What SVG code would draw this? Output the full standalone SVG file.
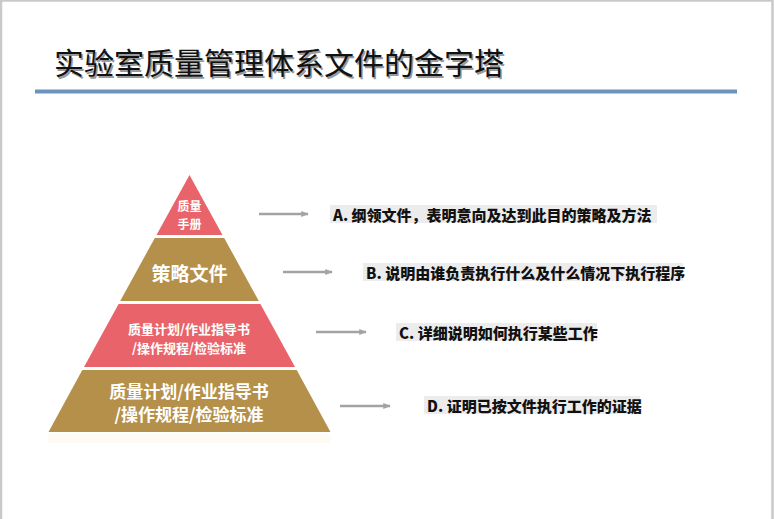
<svg xmlns="http://www.w3.org/2000/svg" width="774" height="519" viewBox="0 0 774 519">
  <style>
    .pink { fill: #E8646A; }
    .gold { fill: #B5904A; }
    .wt { fill: #FFFFFF; font-family: "Noto Sans CJK SC", "Noto Sans", sans-serif; font-weight: bold; text-anchor: middle; dominant-baseline: central; }
    .lbl { fill: #111111; font-family: "Noto Sans CJK SC", "Noto Sans", sans-serif; font-weight: 900; font-size: 15px; dominant-baseline: central; }
    .lblbg { fill: #ECECEC; }
    .conn { stroke: #A3A3A3; stroke-width: 2.5; fill: none; marker-end: url(#ah); }
    .title { font-family: "Noto Sans CJK SC", "Noto Sans", sans-serif; font-size: 30px; }
  </style>
  <defs>
    <marker id="ah" viewBox="0 0 10 10" refX="9" refY="5" markerWidth="3" markerHeight="3" orient="auto" markerUnits="strokeWidth">
      <path d="M0,1 L10,5 L0,9 z" fill="#A3A3A3"/>
    </marker>
  </defs>
  <rect x="0" y="0" width="774" height="519" fill="#FFFFFF"/>
  <rect x="1" y="0.5" width="771.5" height="520" fill="none" stroke="#C9C9C9" stroke-width="2.5"/>

  <g id="title">
    <text x="55.5" y="75.5" class="title" fill="#9A9A9A">实验室质量管理体系文件的金字塔</text>
    <text x="54" y="74" class="title" fill="#111111">实验室质量管理体系文件的金字塔</text>
    <rect x="35" y="89.5" width="702" height="4" fill="#6B93BE"/>
  </g>

  <g id="reflection" opacity="0.07">
    <rect x="48" y="434" width="282" height="9" fill="#E8C860"/>
  </g>

  <g id="layer1">
    <polygon class="pink" points="189.5,175 222.5,235 156.5,235"/>
    <text class="wt" x="189.5" y="205" font-size="12">质量</text>
    <text class="wt" x="189.5" y="223" font-size="12">手册</text>
  </g>
  <g id="layer2">
    <polygon class="gold" points="154.8,238 224.2,238 258.8,301 120.2,301"/>
    <text class="wt" x="189.5" y="272" font-size="19">策略文件</text>
  </g>
  <g id="layer3">
    <polygon class="pink" points="118.6,304 260.4,304 295,367 84,367"/>
    <text class="wt" x="189" y="328" font-size="13">质量计划/作业指导书</text>
    <text class="wt" x="189" y="347" font-size="13">/操作规程/检验标准</text>
  </g>
  <g id="layer4">
    <polygon class="gold" points="82.3,370 296.7,370 330.5,432 48.5,432"/>
    <text class="wt" x="189" y="390" font-size="17">质量计划/作业指导书</text>
    <text class="wt" x="189" y="413" font-size="17">/操作规程/检验标准</text>
  </g>

  <g id="labelA">
    <rect class="lblbg" x="330" y="205" width="327" height="18"/>
    <text class="lbl" x="333" y="214">A. 纲领文件，表明意向及达到此目的策略及方法</text>
  </g>
  <g id="labelB">
    <rect class="lblbg" x="363" y="263" width="320" height="18"/>
    <text class="lbl" x="366" y="272">B. 说明由谁负责执行什么及什么情况下执行程序</text>
  </g>
  <g id="labelC">
    <rect class="lblbg" x="396" y="323" width="201" height="18"/>
    <text class="lbl" x="399" y="332">C. 详细说明如何执行某些工作</text>
  </g>
  <g id="labelD">
    <rect class="lblbg" x="424" y="396" width="216" height="18"/>
    <text class="lbl" x="427" y="405">D. 证明已按文件执行工作的证据</text>
  </g>

  <g id="connectors">
    <line class="conn" x1="259" y1="214" x2="308" y2="214"/>
    <line class="conn" x1="283" y1="272" x2="332" y2="272"/>
    <line class="conn" x1="316" y1="332" x2="366" y2="332"/>
    <line class="conn" x1="340" y1="406" x2="390" y2="406"/>
  </g>
</svg>
